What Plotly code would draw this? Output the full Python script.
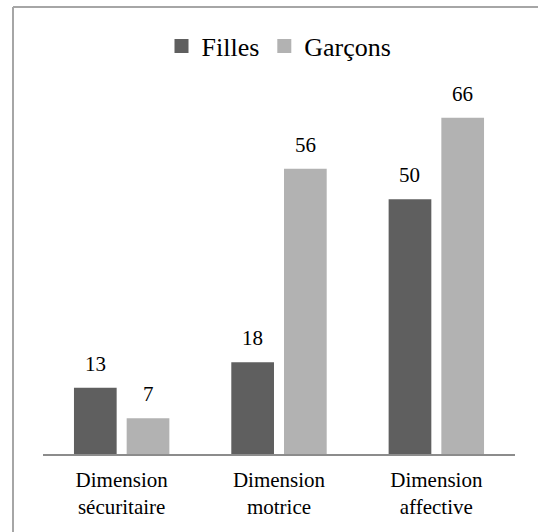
import plotly.graph_objects as go

categories = ["Dimension<br>sécuritaire", "Dimension<br>motrice", "Dimension<br>affective"]
series_names = ["Filles", "Garçons"]
filles = [13, 18, 50]
garcons = [7, 56, 66]

colors = ["#5f5f5f", "#b2b2b2"]
FONT = "'Liberation Serif', 'Times New Roman', Tinos, 'DejaVu Serif', serif"

W, H = 538, 532
ML, MR, MT, MB = 43, 23, 100, 78
plot_w = W - ML - MR
plot_h = H - MT - MB
y_max = 69.5

fig = go.Figure()
for name, vals, col in zip(series_names, [filles, garcons], colors):
    fig.add_trace(go.Bar(
        x=categories, y=vals, name=name, marker_color=col,
        marker_line_width=0, showlegend=False, cliponaxis=False,
        hoverinfo="skip",
    ))
    # legend proxy with a slightly larger square swatch
    fig.add_trace(go.Scatter(
        x=[None], y=[None], mode="markers", name=name,
        marker=dict(symbol="square", size=14, color=col),
    ))

# value labels
slot = plot_w / len(categories) * (1 - 0.33) / 2
for vals, sign in zip([filles, garcons], [-1, 1]):
    for cat, v in zip(categories, vals):
        fig.add_annotation(
            x=cat, y=v, text=str(v), showarrow=False,
            xref="x", yref="y", yanchor="bottom",
            xshift=sign * slot / 2, yshift=10,
            font=dict(family=FONT, size=21, color="#000000"),
        )

# outer chart frame: only the top and left edges are visible in the view
def px_to_paper_x(px):
    return (px - ML) / plot_w

def px_to_paper_y(py):
    return (H - MB - py) / plot_h

frame_line = dict(color="#a6a6a6", width=2)
fig.add_shape(type="line", xref="paper", yref="paper",
              x0=px_to_paper_x(13), x1=px_to_paper_x(W + 20),
              y0=px_to_paper_y(7), y1=px_to_paper_y(7),
              line=frame_line, layer="below")
fig.add_shape(type="line", xref="paper", yref="paper",
              x0=px_to_paper_x(13), x1=px_to_paper_x(13),
              y0=px_to_paper_y(7), y1=px_to_paper_y(H + 20),
              line=frame_line, layer="below")

fig.update_layout(
    width=W, height=H,
    margin=dict(l=ML, r=MR, t=MT, b=MB),
    paper_bgcolor="#ffffff", plot_bgcolor="#ffffff",
    barmode="group", bargap=0.33, bargroupgap=0.19,
    font=dict(family=FONT, color="#000000"),
    showlegend=True,
    legend=dict(
        orientation="h", x=0.5, xanchor="center",
        y=px_to_paper_y(46), yanchor="middle",
        font=dict(family=FONT, size=26, color="#000000"),
        itemsizing="trace", bgcolor="rgba(0,0,0,0)",
        itemclick=False, itemdoubleclick=False,
    ),
    xaxis=dict(
        showline=True, linecolor="#8c8c8c", linewidth=1.5,
        ticks="", showgrid=False, zeroline=False,
        tickfont=dict(family=FONT, size=21, color="#000000"),
        ticklabelstandoff=6,
        fixedrange=True,
    ),
    yaxis=dict(
        range=[0, y_max], visible=False, showgrid=False,
        zeroline=False, fixedrange=True,
    ),
)

fig.write_html(
    "out.html",
    config={"displayModeBar": False, "staticPlot": True},
    post_script=(
        "document.documentElement.style.overflow='hidden';"
        "document.documentElement.style.margin='0';"
        "document.body.style.overflow='hidden';"
        "document.body.style.margin='0';document.body.style.padding='0';"
    ),
)
